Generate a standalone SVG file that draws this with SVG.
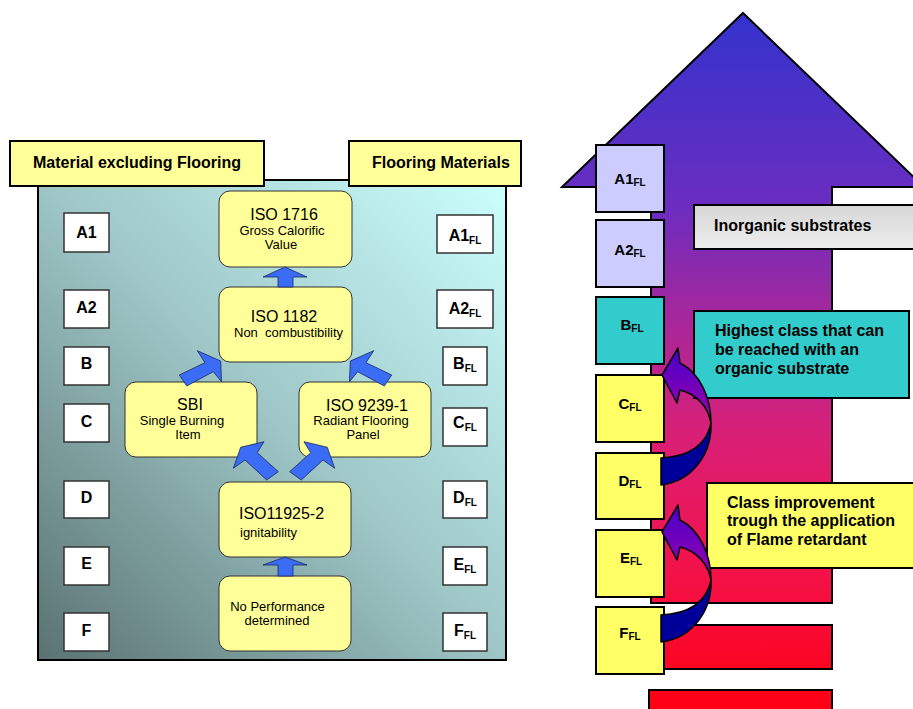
<svg xmlns="http://www.w3.org/2000/svg" width="913" height="709" viewBox="0 0 913 709">
<defs>
<linearGradient id="panelGrad" x1="0" y1="1" x2="1" y2="0">
<stop offset="0" stop-color="#5a7272"/>
<stop offset="0.5" stop-color="#9ec6c6"/>
<stop offset="1" stop-color="#ccffff"/>
</linearGradient>
<linearGradient id="bigGrad" gradientUnits="userSpaceOnUse" x1="0" y1="13" x2="0" y2="709">
<stop offset="0" stop-color="#3333cc"/>
<stop offset="0.28" stop-color="#6c2dc0"/>
<stop offset="0.42" stop-color="#a0289f"/>
<stop offset="0.6" stop-color="#d82078"/>
<stop offset="0.8" stop-color="#f3124a"/>
<stop offset="1" stop-color="#ff0012"/>
</linearGradient>
<linearGradient id="grayGrad" x1="0" y1="0" x2="0" y2="1">
<stop offset="0" stop-color="#d6d6d6"/>
<stop offset="1" stop-color="#eeeeee"/>
</linearGradient>
<linearGradient id="curveGrad" x1="0" y1="0" x2="0" y2="1">
<stop offset="0" stop-color="#4400cc"/>
<stop offset="1" stop-color="#a000a8"/>
</linearGradient>
<style>
.hdr{fill:#ffff99;stroke:#000;stroke-width:2}
.cls{fill:#fff;stroke:#333;stroke-width:1.5}
.node{fill:#ffff99;stroke:#333;stroke-width:1}
.blk{fill:#3b6cf5;stroke:#1a2760;stroke-width:0.8}
.flb{stroke:#000;stroke-width:2}
.lav{fill:#ccccff}
.teal{fill:#33cccc}
.yel{fill:#ffff66}
.b16{font-family:"Liberation Sans",Arial,sans-serif;font-weight:bold;font-size:16px;fill:#000}
.b15{font-family:"Liberation Sans",Arial,sans-serif;font-weight:bold;font-size:15px;fill:#000}
.r16{font-family:"Liberation Sans",Arial,sans-serif;font-size:16px;fill:#000}
.r13{font-family:"Liberation Sans",Arial,sans-serif;font-size:13px;fill:#000;white-space:pre}
.sub{font-size:10px}
.mid{text-anchor:middle}
</style>
</defs>
<rect width="913" height="709" fill="#fff"/>

<!-- Left panel -->
<g id="panel">
<rect x="38" y="180" width="468" height="480" fill="url(#panelGrad)" stroke="#000" stroke-width="2"/>
</g>
<g id="hdr-left">
<rect class="hdr" x="10" y="141" width="254" height="45"/>
<text class="b16" x="33" y="167.5">Material excluding Flooring</text>
</g>
<g id="hdr-right">
<rect class="hdr" x="349" y="141" width="172" height="45"/>
<text class="b16" x="372" y="167.5">Flooring Materials</text>
</g>

<g id="cls-A1"><rect class="cls" x="64" y="213" width="45" height="39"/><text class="b16 mid" x="86.5" y="238">A1</text></g>
<g id="cls-A2"><rect class="cls" x="64" y="290" width="45" height="38"/><text class="b16 mid" x="86.5" y="313">A2</text></g>
<g id="cls-B"><rect class="cls" x="64" y="347" width="45" height="38"/><text class="b16 mid" x="86.5" y="369">B</text></g>
<g id="cls-C"><rect class="cls" x="64" y="404" width="45" height="38"/><text class="b16 mid" x="86.5" y="427">C</text></g>
<g id="cls-D"><rect class="cls" x="64" y="481" width="45" height="37"/><text class="b16 mid" x="86.5" y="503">D</text></g>
<g id="cls-E"><rect class="cls" x="64" y="547" width="45" height="38"/><text class="b16 mid" x="86.5" y="569">E</text></g>
<g id="cls-F"><rect class="cls" x="64" y="613" width="45" height="38"/><text class="b16 mid" x="86.5" y="636">F</text></g>

<g id="fl-A1"><rect class="cls" x="437" y="215" width="56" height="38"/><text class="b16 mid" x="465" y="241">A1<tspan class="sub" dy="3">FL</tspan></text></g>
<g id="fl-A2"><rect class="cls" x="437" y="290" width="56" height="38"/><text class="b16 mid" x="465" y="314">A2<tspan class="sub" dy="3">FL</tspan></text></g>
<g id="fl-B"><rect class="cls" x="443" y="347" width="44" height="38"/><text class="b16 mid" x="465" y="369">B<tspan class="sub" dy="3">FL</tspan></text></g>
<g id="fl-C"><rect class="cls" x="443" y="408" width="44" height="38"/><text class="b16 mid" x="465" y="428">C<tspan class="sub" dy="3">FL</tspan></text></g>
<g id="fl-D"><rect class="cls" x="443" y="481" width="44" height="37"/><text class="b16 mid" x="465" y="503">D<tspan class="sub" dy="3">FL</tspan></text></g>
<g id="fl-E"><rect class="cls" x="443" y="547" width="44" height="38"/><text class="b16 mid" x="465" y="570">E<tspan class="sub" dy="3">FL</tspan></text></g>
<g id="fl-F"><rect class="cls" x="443" y="613" width="44" height="38"/><text class="b16 mid" x="465" y="636">F<tspan class="sub" dy="3">FL</tspan></text></g>

<g id="iso1716">
<rect class="node" x="219" y="191" width="133" height="76" rx="11"/>
<text class="r16 mid" x="284" y="220">ISO 1716</text>
<text class="r13 mid" x="282" y="234.5">Gross Calorific</text>
<text class="r13 mid" x="281" y="248.5">Value</text>
</g>
<g id="iso1182">
<rect class="node" x="219" y="287" width="133" height="75" rx="11"/>
<text class="r16 mid" x="284" y="321.5">ISO 1182</text>
<text class="r13" x="234" y="336.5">Non  combustibility</text>
</g>
<g id="sbi">
<rect class="node" x="125" y="382" width="132" height="75" rx="11"/>
<text class="r16 mid" x="190" y="410">SBI</text>
<text class="r13 mid" x="182" y="425">Single Burning</text>
<text class="r13 mid" x="188" y="438.5">Item</text>
</g>
<g id="iso9239">
<rect class="node" x="299" y="382" width="132" height="75" rx="11"/>
<text class="r16 mid" x="367" y="410.5">ISO 9239-1</text>
<text class="r13 mid" x="361" y="425">Radiant Flooring</text>
<text class="r13 mid" x="363" y="438.5">Panel</text>
</g>
<g id="iso11925">
<rect class="node" x="219" y="482" width="132" height="75" rx="11"/>
<text class="r16" x="239" y="519">ISO11925-2</text>
<text class="r13" x="240" y="537">ignitability</text>
</g>
<g id="noperf">
<rect class="node" x="219" y="576" width="132" height="75" rx="11"/>
<text class="r13 mid" x="277.5" y="610.5">No Performance</text>
<text class="r13 mid" x="277" y="625">determined</text>
</g>

<!-- Right side -->
<g id="bigarrow">
<path d="M743,13 L924,187 L832,187 L832,603 L651,603 L651,187 L562,187 Z" fill="url(#bigGrad)" stroke="#000" stroke-width="2"/>
<rect x="651" y="625" width="181" height="44" fill="url(#bigGrad)" stroke="#000" stroke-width="2"/>
<rect x="649" y="690" width="183" height="30" fill="url(#bigGrad)" stroke="#000" stroke-width="2"/>
</g>

<g id="inorganic">
<rect x="694" y="205" width="230" height="44" fill="url(#grayGrad)" stroke="#000" stroke-width="2"/>
<text class="b16" x="714" y="231">Inorganic substrates</text>
</g>
<g id="highest">
<rect class="teal" x="694" y="311" width="215" height="87" stroke="#000" stroke-width="2"/>
<text class="b16" x="715" y="335.5">Highest class that can</text>
<text class="b16" x="715" y="354.5">be reached with an</text>
<text class="b16" x="715" y="373.5">organic substrate</text>
</g>
<g id="improvement">
<rect class="yel" x="707" y="483" width="217" height="85" stroke="#000" stroke-width="2"/>
<text class="b16" x="727" y="507.5">Class improvement</text>
<text class="b16" x="727" y="526">trough the application</text>
<text class="b16" x="727" y="544.5">of Flame retardant</text>
</g>

<g id="r-A1"><rect class="flb lav" x="596" y="145" width="68" height="67"/><text class="b15 mid" x="630" y="184">A1<tspan class="sub" dy="2">FL</tspan></text></g>
<g id="r-A2"><rect class="flb lav" x="596" y="220" width="68" height="67"/><text class="b15 mid" x="630" y="255">A2<tspan class="sub" dy="2">FL</tspan></text></g>
<g id="r-B"><rect class="flb teal" x="596" y="297" width="68" height="67"/><text class="b15 mid" x="632" y="330">B<tspan class="sub" dy="2">FL</tspan></text></g>
<g id="r-C"><rect class="flb yel" x="596" y="375" width="68" height="67"/><text class="b15 mid" x="630" y="409">C<tspan class="sub" dy="2">FL</tspan></text></g>
<g id="r-D"><rect class="flb yel" x="596" y="453" width="68" height="66"/><text class="b15 mid" x="630" y="486">D<tspan class="sub" dy="2">FL</tspan></text></g>
<g id="r-E"><rect class="flb yel" x="596" y="530" width="68" height="67"/><text class="b15 mid" x="631" y="563">E<tspan class="sub" dy="2">FL</tspan></text></g>
<g id="r-F"><rect class="flb yel" x="596" y="607" width="68" height="67"/><text class="b15 mid" x="630" y="638">F<tspan class="sub" dy="2">FL</tspan></text></g>

<!-- Connectors -->
<g id="connectors">
<polygon class="blk" points="278,287 278,277 263,277 285,267 307,277 293,277 293,287"/>
<polygon class="blk" points="278,576 278,565 263,565 285,557 307,565 293,565 293,576"/>
<polygon class="blk" points="179.3,375 186.7,386 213.3,371.7 221.5,381.7 220.7,361 197.3,350.7 205,362.7"/>
<polygon class="blk" points="391.7,375 384.3,386 357.7,371.7 349.5,381.7 350.3,361 373.7,350.7 366,362.7"/>
<polygon class="blk" points="278.3,471.7 266.7,480 245,460 233.3,468.3 240.7,447.3 264,441.7 257.3,452.7"/>
<polygon class="blk" points="289.7,471.7 301.3,480 323,460 334.7,468.3 327.3,447.3 304,441.7 310.7,452.7"/>
<g id="curve1">
<path d="M711,423 C711,398 700,373 680,363 L678,348 L662,375 L677,403 L680,390 C696,394 708,406 711,423 Z" fill="url(#curveGrad)" stroke="#000" stroke-width="1.5" stroke-linejoin="round"/>
<path d="M711,423 C712,452 694,481 661,485 L661,458 C688,457 707,445 711,423 Z" fill="#000099" stroke="#000" stroke-width="1.5" stroke-linejoin="round"/>
</g>
<g id="curve2" transform="translate(0,157)">
<path d="M711,423 C711,398 700,373 680,363 L678,348 L662,375 L677,403 L680,390 C696,394 708,406 711,423 Z" fill="url(#curveGrad)" stroke="#000" stroke-width="1.5" stroke-linejoin="round"/>
<path d="M711,423 C712,452 694,481 661,485 L661,458 C688,457 707,445 711,423 Z" fill="#000099" stroke="#000" stroke-width="1.5" stroke-linejoin="round"/>
</g>
</g>
</svg>
